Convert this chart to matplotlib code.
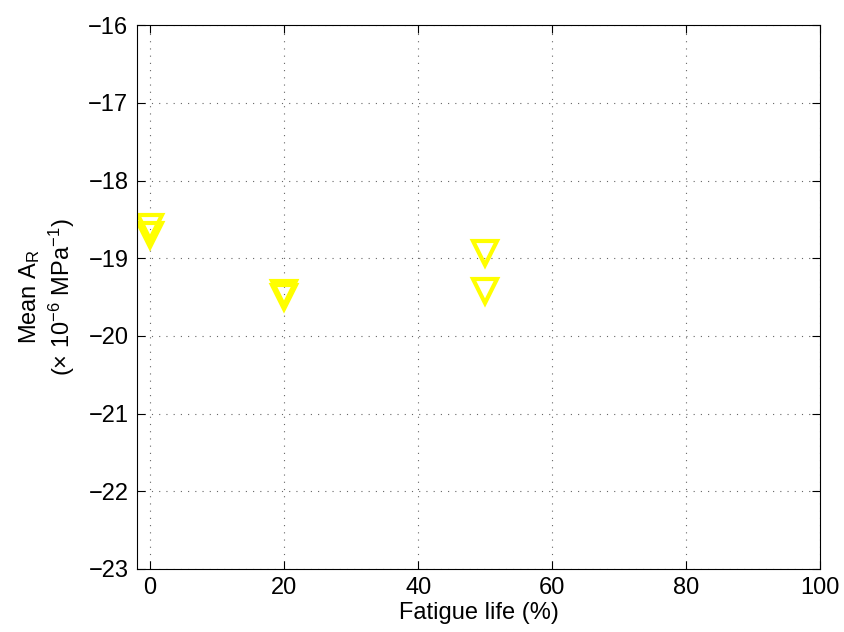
import matplotlib
matplotlib.use('Agg')
from matplotlib import pyplot as plt

plt.rcParams.update({'font.size': 17, 'font.family': ['Liberation Sans', 'DejaVu Sans'],
                     'mathtext.fontset': 'custom', 'mathtext.rm': 'Liberation Sans',
                     'mathtext.it': 'Liberation Sans'})

life = [0, 0, 20, 20, 50, 50]
mean_ar = [-18.6, -18.7, -19.45, -19.5, -18.93, -19.42]

fig = plt.figure(figsize=(8.44, 6.32), dpi=100)
ax = fig.add_axes([0.162, 0.100, 0.810, 0.860])

ax.plot(life, mean_ar, linestyle='none', marker='v', markersize=17,
        markerfacecolor='none', markeredgecolor='#ffff00', markeredgewidth=3)

ax.set_xlim(-2, 100)
ax.set_ylim(-23, -16)
ax.set_xticks(range(0, 101, 20))
ax.set_yticks(range(-23, -15))
ax.set_yticklabels(['\u2212%d' % abs(v) for v in range(-23, -15)])
ax.grid(True, linestyle=(0, (1, 5.5)), color='0.4', linewidth=0.8)
ax.tick_params(direction='in', top=True, right=True, length=6, pad=6)
ax.set_xlabel('Fatigue life (%)', labelpad=2)
ax.set_ylabel('Mean A$_\\mathrm{R}$\n(\u00d7 10$^{\u22126}$ MPa$^{\u22121}$)', labelpad=8)

fig.savefig('out.png')
